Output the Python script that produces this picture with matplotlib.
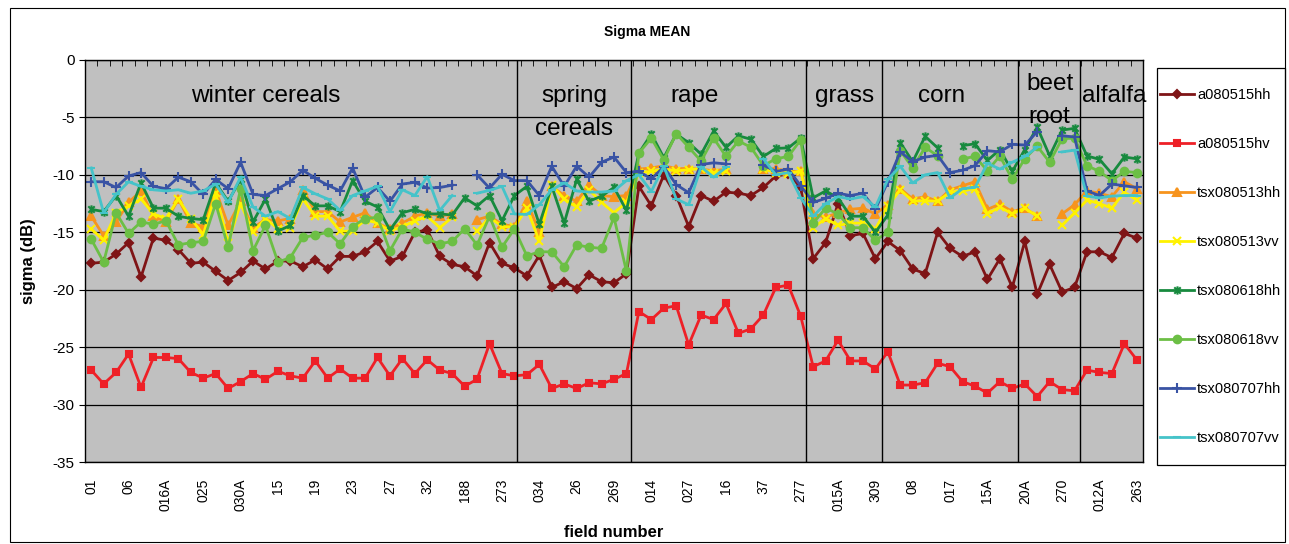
import numpy as np
import matplotlib
matplotlib.use("Agg")
import matplotlib.pyplot as plt
from matplotlib.patches import Rectangle
from matplotlib.path import Path

plt.rcParams['font.family'] = ['Liberation Sans', 'DejaVu Sans']
plt.rcParams['axes.unicode_minus'] = False

nan = np.nan

# category axis: field numbers (label shown on every 3rd field)
tick_labels = ['01', '06', '016A', '025', '030A', '15', '19', '23', '27', '32',
               '188', '273', '034', '26', '269', '014', '027', '16', '37', '277',
               '015A', '309', '08', '017', '15A', '20A', '270', '012A', '263']
n_fields = 85

# crop groups: name, label position, separator position
group_names = ['winter cereals', 'spring\ncereals', 'rape', 'grass', 'corn', 'beet\nroot', 'alfalfa']
group_label_x = [14, 38.8, 48.5, 60.5, 68.3, 77, 82.2]
group_label_y = [-3.1, -4.55, -3.1, -3.1, -3.1, -3.5, -3.1]
group_edges = [34.2, 43.35, 57.4, 63.5, 74.45, 79.45]

a080515hh = [-17.7, -17.6, -16.9, -15.9, -18.9, -15.5, -15.7, -16.5, -17.7, -17.6,
             -18.4, -19.2, -18.5, -17.5, -18.2, -17.5, -17.5, -18.0, -17.4, -18.2,
             -17.1, -17.1, -16.7, -15.8, -17.5, -17.1, -15.0, -14.8, -17.1, -17.8,
             -18.0, -18.8, -15.9, -17.7, -18.1, -18.8, -17.0, -19.8, -19.3, -19.9,
             -18.7, -19.3, -19.4, -18.6, -11.0, -12.7, -10.0, -11.8, -14.5, -11.8,
             -12.3, -11.5, -11.6, -11.8, -11.1, -10.1, -9.9, -11.1, -17.3, -15.9,
             -12.5, -15.3, -15.1, -17.3, -15.8, -16.6, -18.2, -18.6, -15.0, -16.4,
             -17.1, -16.7, -19.1, -17.3, -19.8, -15.8, -20.4, -17.8, -20.2, -19.8,
             -16.7, -16.7, -17.2, -15.1, -15.5]

a080515hv = [-27.0, -28.2, -27.2, -25.6, -28.5, -25.9, -25.9, -26.0, -27.2, -27.7,
             -27.3, -28.6, -28.0, -27.3, -27.8, -27.1, -27.5, -27.7, -26.2, -27.7,
             -26.9, -27.7, -27.7, -25.9, -27.5, -26.0, -27.3, -26.1, -27.0, -27.3,
             -28.4, -27.8, -24.7, -27.3, -27.5, -27.4, -26.5, -28.6, -28.2, -28.6,
             -28.1, -28.2, -27.8, -27.3, -21.9, -22.6, -21.6, -21.4, -24.8, -22.2,
             -22.6, -21.2, -23.8, -23.4, -22.2, -19.8, -19.6, -22.3, -26.7, -26.2,
             -24.4, -26.2, -26.2, -26.9, -25.4, -28.3, -28.3, -28.1, -26.4, -26.7,
             -28.0, -28.4, -29.0, -28.0, -28.6, -28.2, -29.3, -28.0, -28.7, -28.8,
             -27.0, -27.2, -27.3, -24.7, -26.1]

tsx080513hh = [-13.6, -15.3, -14.1, -12.4, -11.4, -13.6, -14.1, -12.1, -14.2, -14.5,
               -11.3, -14.4, -12.3, -14.6, -13.9, -14.0, -13.8, -11.3, -13.2, -13.2,
               -14.1, -13.7, -13.3, -14.2, -14.7, -14.2, -13.6, -13.3, -13.6, -13.4,
               nan, -13.9, -13.6, -14.3, -14.5, -12.3, -15.0, -11.0, -11.8, -12.3,
               -10.9, -11.8, -11.9, -11.8, -9.5, -9.4, -9.2, -9.45, -9.45, -9.5,
               -9.65, -9.5, nan, nan, -9.5, -9.45, -9.7, -9.7, -13.4, -13.7,
               -13.3, -13.0, -12.9, -13.4, -12.6, -11.2, -12.1, -11.9, -12.3, -11.3,
               -10.95, -10.6, -13.0, -12.55, -13.2, -12.9, -13.6, nan, -13.4, -12.6,
               -11.4, -11.6, -11.9, -10.6, -11.2]

tsx080513vv = [-14.7, -15.7, -13.3, -12.7, -12.1, -13.4, -13.8, -12.1, -13.8, -15.2,
               -11.6, -15.9, -12.5, -15.0, -13.8, -14.7, -14.6, -12.1, -13.6, -13.6,
               -14.9, -14.9, -13.9, -14.2, -14.9, -14.5, -14.0, -13.6, -14.6, -13.7,
               nan, -14.9, -13.7, -14.5, -14.55, -12.9, -15.8, -10.9, -12.1, -12.8,
               -11.3, -12.4, -13.3, -12.4, -9.8, -9.7, -9.5, -9.65, -9.55, -9.45,
               -9.85, -9.7, nan, nan, -9.5, -9.8, -9.9, -9.65, -14.6, -13.8,
               -14.4, -14.2, -14.2, -14.7, -12.75, -11.3, -12.3, -12.25, -12.3, -11.5,
               -11.4, -11.2, -13.4, -12.8, -13.4, -12.9, -13.6, nan, -14.4, -13.3,
               -12.2, -12.5, -12.9, -11.5, -12.2]

tsx080618hh = [-13.0, -13.2, -11.8, -13.6, -10.7, -12.9, -12.9, -13.6, -13.8, -13.9,
               -10.7, -12.3, -10.4, -14.1, -12.1, -14.9, -14.4, -11.8, -12.7, -12.7,
               -13.2, -10.5, -12.3, -12.8, -14.8, -13.3, -13.0, -13.4, -13.4, -13.5,
               -12.0, -12.7, -11.8, -14.0, -11.8, -11.0, -14.3, -11.0, -14.2, -10.4,
               -12.3, -11.85, -11.1, -13.1, -8.1, -6.45, -8.5, -6.45, -7.2, -8.2,
               -6.2, -7.6, -6.6, -6.9, -8.4, -7.7, -7.65, -6.8, -12.0, -11.4,
               -12.0, -13.6, -13.6, -15.0, -13.5, -7.2, -8.85, -6.65, -7.65, nan,
               -7.45, -7.3, -8.75, -7.8, -9.7, -7.8, -5.85, -8.35, -6.1, -5.95,
               -8.35, -8.65, -9.9, -8.45, -8.6]

tsx080618vv = [-15.6, -17.6, -13.3, -15.1, -14.1, -14.3, -14.0, -16.1, -15.9, -15.8,
               -12.5, -16.3, -11.2, -16.6, -14.4, -17.6, -17.2, -15.45, -15.25, -15.0,
               -16.0, -14.5, -13.8, -13.7, -16.6, -14.7, -15.0, -15.6, -16.0, -15.8,
               -14.7, -16.1, -13.6, -16.3, -14.7, -17.05, -16.7, -16.7, -18.0, -16.1,
               -16.3, -16.4, -13.7, -18.4, -8.1, -6.8, -8.7, -6.4, -7.6, -8.8,
               -6.8, -8.4, -7.05, -7.6, -9.2, -8.6, -8.4, -6.95, -14.2, -12.9,
               -13.4, -14.6, -14.6, -15.7, -15.0, -7.9, -9.4, -7.6, -8.35, nan,
               -8.6, -8.4, -9.65, -8.35, -10.4, -8.6, -7.5, -8.9, -6.85, -6.8,
               -9.2, -9.7, -10.5, -9.7, -9.8]

tsx080707hh = [-10.6, -10.6, -11.1, -10.1, -9.8, -11.0, -11.2, -10.2, -10.6, -11.7,
               -10.4, -11.2, -8.9, -11.7, -11.8, -11.2, -10.6, -9.6, -10.3, -10.9,
               -11.4, -9.4, -11.95, -11.1, -12.3, -10.8, -10.65, -11.15, -11.1, -10.9,
               nan, -10.0, -11.15, -9.95, -10.5, -10.5, -11.8, -9.25, -11.0, -9.25,
               -10.2, -8.9, -8.45, -9.8, -9.7, -10.35, -9.3, -10.85, -11.55, -9.1,
               -8.95, -9.05, nan, nan, -9.15, -9.7, -9.5, -10.95, -12.4, -12.05,
               -11.6, -11.8, -11.6, -13.0, -10.6, -8.0, -8.85, -8.45, -8.3, -9.8,
               -9.6, -9.2, -7.9, -8.0, -7.35, -7.4, -6.25, nan, -6.6, -6.7,
               -11.4, -11.8, -10.8, -10.95, -11.1]

tsx080707vv = [-9.4, -13.3, -11.7, -10.6, -11.0, -11.3, -11.4, -11.3, -11.6, -11.4,
               -10.8, -12.4, -10.2, -12.8, -13.6, -13.2, -13.8, -11.1, -11.65, -12.1,
               -13.1, -11.8, -11.4, -11.0, -13.2, -11.3, -11.8, -10.15, -13.1, -11.8,
               nan, -11.6, -11.35, -11.0, -13.4, -13.45, -12.6, -11.3, -10.7, -11.4,
               -11.5, -11.5, -11.4, -10.5, -10.0, -11.45, -9.25, -12.1, -12.6, -9.3,
               -10.2, -9.35, nan, nan, -8.6, -10.0, -9.8, -12.0, -13.6, -12.5,
               -11.9, -12.1, -11.9, -12.8, -10.4, -9.25, -10.7, -10.0, -9.8, -12.0,
               -11.2, -11.1, -9.0, -9.5, -8.9, -8.4, -7.6, nan, -8.0, -7.85,
               -11.85, -12.0, -11.85, -11.8, -11.8]

# excel style asterisk marker: an x crossed by a vertical bar
asterisk = Path([(-1, -1), (1, 1), (-1, 1), (1, -1), (0, -1.3), (0, 1.3)],
                [Path.MOVETO, Path.LINETO, Path.MOVETO, Path.LINETO, Path.MOVETO, Path.LINETO])

series = [
    ('a080515hh', a080515hh, '#7f1416', 'D', 4.5),
    ('a080515hv', a080515hv, '#ee2027', 's', 5),
    ('tsx080513hh', tsx080513hh, '#f7941d', '^', 6),
    ('tsx080513vv', tsx080513vv, '#fff200', 'x', 6),
    ('tsx080618hh', tsx080618hh, '#178a3e', asterisk, 6),
    ('tsx080618vv', tsx080618vv, '#6cbf45', 'o', 5.5),
    ('tsx080707hh', tsx080707hh, '#3953a4', '+', 7),
    ('tsx080707vv', tsx080707vv, '#45c3c9', '_', 6),
]


def main():
    fig = plt.figure(figsize=(12.89, 5.44), dpi=100)
    ax = fig.add_axes([85 / 1289, 1 - 462 / 544, (1143 - 85) / 1289, (462 - 60) / 544])
    ax.set_facecolor('#c0c0c0')

    x = np.arange(n_fields)
    for name, vals, color, marker, ms in series:
        ax.plot(x, vals, color=color, lw=2, marker=marker, ms=ms,
                mec=color, mfc=color, mew=1.5, label=name)

    ax.set_xlim(-0.5, n_fields - 0.5)
    ax.set_ylim(-35, 0)
    ax.set_yticks(np.arange(-35, 1, 5))
    ax.set_yticklabels([str(v) for v in range(-35, 1, 5)], fontsize=11)
    ax.yaxis.grid(True, color='black', lw=0.9)
    ax.set_axisbelow(True)

    # field labels every third category, little category ticks on the top axis
    ax.set_xticks(x[::3])
    ax.set_xticklabels(tick_labels, rotation=90, fontsize=10)
    ax.set_xticks(np.arange(n_fields + 1) - 0.5, minor=True)
    ax.tick_params(axis='x', which='major', length=0, pad=12)
    ax.tick_params(axis='x', which='minor', top=True, bottom=False, direction='in', length=4)
    ax.tick_params(axis='y', length=4, direction='out')

    for e in group_edges:
        ax.axvline(e, color='black', lw=1)
    for name, gx, gy in zip(group_names, group_label_x, group_label_y):
        ax.text(gx, gy, name, ha='center', va='center', fontsize=17.5, linespacing=1.65)

    for s in ax.spines.values():
        s.set_linewidth(1)

    fig.text(0.502, 1 - 32 / 544, 'Sigma MEAN', ha='center', va='center',
             fontsize=10, fontweight='bold')
    ax.set_ylabel('sigma (dB)', fontsize=12, fontweight='bold', labelpad=12)
    ax.set_xlabel('field number', fontsize=12, fontweight='bold', labelpad=10)

    leg = fig.legend(loc='upper left', bbox_to_anchor=(1160 / 1289, 1 - 88 / 544),
                     fontsize=10.5, labelspacing=2.4, handlelength=2.3,
                     borderpad=0, frameon=False, handletextpad=0.25, borderaxespad=0)
    fig.patches.append(Rectangle((1157 / 1289, 1 - 465 / 544), 128 / 1289, 397 / 544,
                                 transform=fig.transFigure, fill=False,
                                 edgecolor='black', lw=0.9))

    fig.patches.append(Rectangle((10 / 1289, 2 / 544), 1275 / 1289, 534 / 544,
                                 transform=fig.transFigure, fill=False,
                                 edgecolor='black', lw=0.8))

    fig.savefig('out.png', dpi=100)


main()
